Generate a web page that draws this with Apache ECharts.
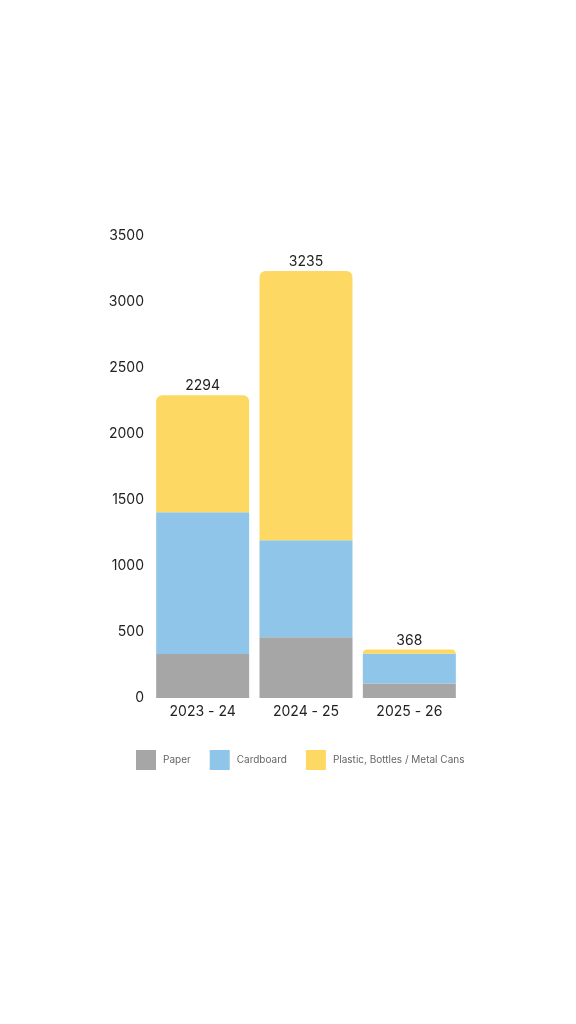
<!DOCTYPE html>
<html>
<head>
<meta charset="utf-8">
<script src="https://cdn.jsdelivr.net/npm/echarts@6/dist/echarts.min.js"></script>
<style>
html,body{margin:0;padding:0;background:#fff;}
#chart{width:576px;height:1024px;}
</style>
</head>
<body>
<div id="chart"></div>
<script>
const categories = ['2023 - 24', '2024 - 25', '2025 - 26'];
const paper = [333, 460, 109];
const cardboard = [1074, 735, 227];
const plastic = [887, 2040, 32];
const seriesNames = ['Paper', 'Cardboard', 'Plastic, Bottles / Metal Cans'];
const colors = ['#a6a6a6', '#8ec5e8', '#fdd964'];
const totals = categories.map((c, i) => paper[i] + cardboard[i] + plastic[i]);

const chart = echarts.init(document.getElementById('chart'), null, {renderer: 'canvas'});
const font = 'Inter, "Noto Sans", sans-serif';
chart.setOption({
  animation: false,
  textStyle: {fontFamily: font},
  color: colors,
  grid: {left: 151, right: 115, top: 236, bottom: 326, containLabel: false},
  legend: {
    left: 136, top: 750, padding: 0,
    itemWidth: 20, itemHeight: 20, itemGap: 19,
    icon: 'rect',
    textStyle: {fontSize: 10, color: '#666', fontFamily: font, padding: [0, 0, 0, 2]},
    data: seriesNames
  },
  xAxis: {
    type: 'category', data: categories,
    axisLine: {show: false}, axisTick: {show: false},
    axisLabel: {fontSize: 14, color: '#222', margin: 7, fontFamily: font}
  },
  yAxis: {
    type: 'value', min: 0, max: 3500, interval: 500,
    splitLine: {show: false}, axisLine: {show: false}, axisTick: {show: false},
    axisLabel: {fontSize: 14, color: '#222', margin: 7, fontFamily: font, formatter: v => String(v)}
  },
  series: [
    {name: seriesNames[0], type: 'bar', stack: 's', data: paper, barCategoryGap: '10%', itemStyle: {color: colors[0]}},
    {name: seriesNames[1], type: 'bar', stack: 's', data: cardboard, itemStyle: {color: colors[1]}},
    {name: seriesNames[2], type: 'bar', stack: 's', data: plastic,
      itemStyle: {color: colors[2], borderRadius: [6, 6, 0, 0]},
      label: {show: true, position: 'top', distance: 2, fontSize: 14, color: '#222', fontFamily: font,
        formatter: p => String(totals[p.dataIndex])}}
  ]
});
</script>
</body>
</html>
